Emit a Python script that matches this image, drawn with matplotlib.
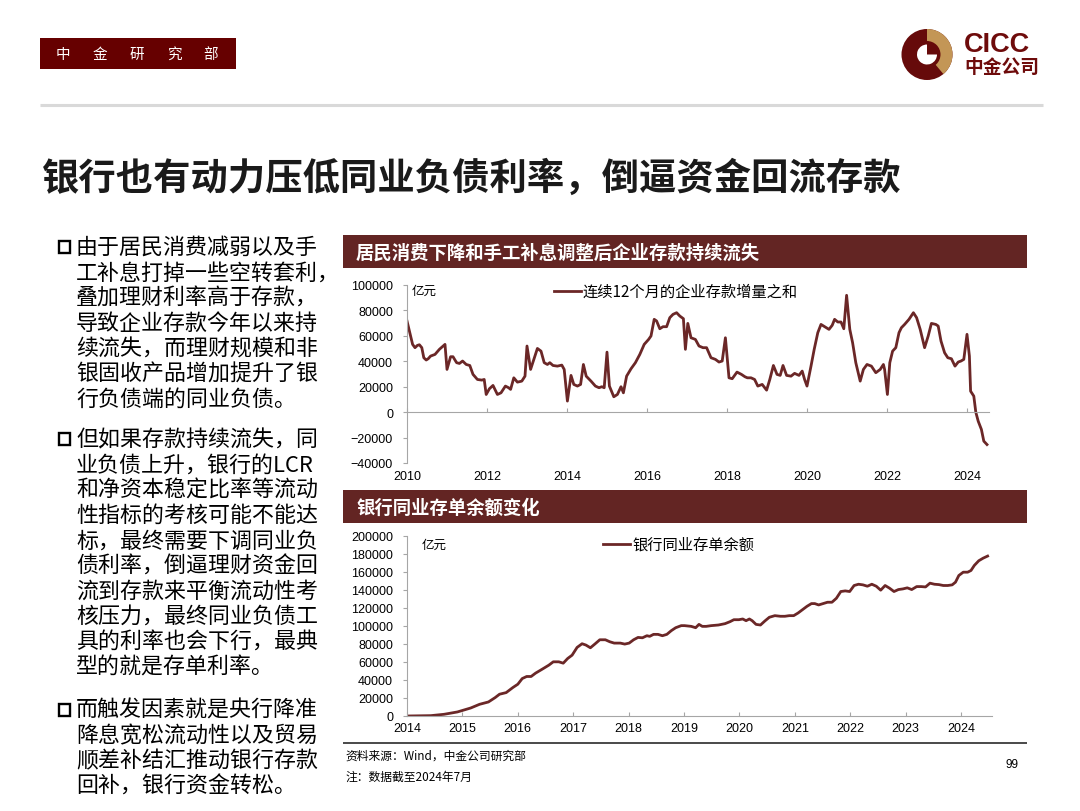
import matplotlib
matplotlib.use('Agg')
import matplotlib.pyplot as plt
from matplotlib import font_manager
from matplotlib.patches import Rectangle, Circle, Wedge
from matplotlib.ticker import FuncFormatter

# ---------------- data ----------------
# Chart 1: 连续12个月的企业存款增量之和 (亿元)
ent_year = [2010.00, 2010.09, 2010.14, 2010.20, 2010.26, 2010.31, 2010.37, 2010.42, 2010.48, 2010.53,
            2010.59, 2010.70, 2010.81, 2010.95, 2011.00, 2011.09, 2011.15, 2011.24, 2011.31, 2011.39,
            2011.48, 2011.57, 2011.65, 2011.76, 2011.87, 2011.93, 2011.98, 2012.06, 2012.15, 2012.26,
            2012.35, 2012.46, 2012.54, 2012.59, 2012.67, 2012.76, 2012.87, 2012.95, 2013.00, 2013.09,
            2013.17, 2013.26, 2013.35, 2013.43, 2013.51, 2013.57, 2013.65, 2013.76, 2013.87, 2013.93,
            2014.01, 2014.10, 2014.17, 2014.26, 2014.34, 2014.41, 2014.48, 2014.60, 2014.71, 2014.80,
            2014.87, 2014.93, 2015.00, 2015.06, 2015.17, 2015.26, 2015.35, 2015.41, 2015.49, 2015.60,
            2015.71, 2015.82, 2015.93, 2016.04, 2016.10, 2016.18, 2016.24, 2016.32, 2016.40, 2016.49,
            2016.57, 2016.65, 2016.74, 2016.82, 2016.91, 2016.96, 2017.02, 2017.10, 2017.21, 2017.30,
            2017.40, 2017.49, 2017.60, 2017.71, 2017.80, 2017.88, 2017.96, 2018.05, 2018.13, 2018.25,
            2018.36, 2018.45, 2018.51, 2018.60, 2018.69, 2018.77, 2018.88, 2018.99, 2019.07, 2019.16,
            2019.25, 2019.33, 2019.40, 2019.49, 2019.60, 2019.69, 2019.80, 2019.88, 2019.94, 2020.00,
            2020.10, 2020.18, 2020.27, 2020.35, 2020.44, 2020.55, 2020.63, 2020.69, 2020.77, 2020.85,
            2020.92, 2020.99, 2021.07, 2021.14, 2021.22, 2021.33, 2021.41, 2021.50, 2021.61, 2021.72,
            2021.83, 2021.91, 2021.94, 2022.01, 2022.07, 2022.14, 2022.22, 2022.30, 2022.36, 2022.44,
            2022.55, 2022.66, 2022.74, 2022.83, 2022.94, 2023.03, 2023.11, 2023.22, 2023.28, 2023.35,
            2023.44, 2023.52, 2023.61, 2023.70, 2023.78, 2023.85, 2023.92, 2024.00, 2024.06, 2024.09,
            2024.17, 2024.22, 2024.28, 2024.36, 2024.42, 2024.50]
ent_value = [71700, 59900, 53300, 50700, 52500, 53000, 50700, 42800, 41000, 42000,
             44100, 45400, 49400, 53300, 33600, 43600, 43600, 38900, 38300, 40200,
             37500, 36700, 29700, 25700, 25200, 25700, 13900, 18400, 21000, 13900,
             15200, 20500, 19200, 17900, 27000, 23600, 24400, 28300, 52000, 33600,
             41500, 50100, 48000, 38900, 37500, 38900, 36700, 36200, 37000, 33600,
             8700, 28900, 21800, 20500, 21800, 37500, 28300, 24400, 20500, 19200,
             20000, 19200, 47200, 20500, 12100, 13900, 20000, 15200, 28300, 34100,
             38900, 45400, 53300, 57200, 59900, 73000, 71700, 65600, 67200, 67200,
             74300, 76900, 78200, 75600, 73500, 49400, 69800, 58500, 57200, 52000,
             50700, 50700, 42800, 41500, 39400, 40200, 58500, 27000, 26300, 31500,
             29700, 27800, 27000, 27000, 25700, 20500, 21800, 17300, 25700, 36700,
             29700, 28900, 36700, 28900, 28300, 30500, 28900, 32300, 25700, 20500,
             36200, 49400, 62500, 69000, 67200, 65100, 68300, 73000, 70900, 70900,
             65600, 91900, 65100, 54600, 38900, 24400, 33600, 37500, 36200, 31000,
             33600, 37500, 33600, 13900, 38900, 48000, 50700, 62500, 66400, 69000,
             73000, 78200, 74300, 65100, 50700, 59900, 69800, 69000, 67700, 55900,
             46700, 42800, 42000, 36200, 39400, 40200, 41500, 61200, 44100, 16500,
             12600, 0, -7100, -13600, -22800, -25500]

# Chart 2: 银行同业存单余额 (亿元)
ncd_year = [2014.00, 2014.43, 2014.67, 2014.91, 2015.03, 2015.15, 2015.31, 2015.47, 2015.59, 2015.67,
            2015.79, 2015.91, 2016.00, 2016.08, 2016.16, 2016.24, 2016.32, 2016.44, 2016.56, 2016.64,
            2016.74, 2016.82, 2016.90, 2016.98, 2017.07, 2017.16, 2017.23, 2017.31, 2017.39, 2017.48,
            2017.58, 2017.66, 2017.74, 2017.85, 2017.93, 2018.01, 2018.09, 2018.17, 2018.25, 2018.33,
            2018.38, 2018.45, 2018.53, 2018.61, 2018.69, 2018.77, 2018.85, 2018.95, 2019.01, 2019.13,
            2019.21, 2019.27, 2019.33, 2019.40, 2019.49, 2019.62, 2019.74, 2019.83, 2019.90, 2019.99,
            2020.06, 2020.12, 2020.18, 2020.23, 2020.30, 2020.38, 2020.46, 2020.54, 2020.64, 2020.74,
            2020.82, 2020.90, 2020.98, 2021.06, 2021.14, 2021.22, 2021.30, 2021.36, 2021.43, 2021.51,
            2021.59, 2021.67, 2021.75, 2021.83, 2021.91, 2021.99, 2022.07, 2022.15, 2022.23, 2022.31,
            2022.39, 2022.47, 2022.55, 2022.63, 2022.71, 2022.79, 2022.87, 2022.95, 2023.03, 2023.11,
            2023.20, 2023.28, 2023.36, 2023.44, 2023.52, 2023.60, 2023.68, 2023.76, 2023.84, 2023.90,
            2023.96, 2024.04, 2024.12, 2024.18, 2024.24, 2024.32, 2024.40, 2024.48]
ncd_value = [0, 400, 1900, 4500, 6700, 8900, 13000, 15600, 20400, 24200,
             26000, 31600, 35300, 41600, 43900, 43900, 47600, 52000, 56500, 60200,
             60200, 58700, 63900, 67600, 76200, 80300, 78800, 75800, 79900, 84700,
             84700, 82500, 81000, 81000, 79900, 81000, 84700, 87300, 86900, 89200,
             88500, 90700, 90700, 89200, 90700, 94800, 98100, 100400, 100400, 99600,
             98100, 101800, 99600, 99600, 100400, 101100, 102600, 104800, 107000, 107000,
             107800, 105900, 107800, 105900, 101800, 101100, 105600, 109700, 111500, 110800,
             110800, 111500, 111500, 114500, 118200, 121900, 124900, 124900, 123400, 124900,
             126400, 126400, 130800, 138300, 139000, 138300, 145000, 146400, 145700, 144200,
             146400, 144200, 139800, 145000, 142000, 138300, 140500, 141200, 142400, 140500,
             143800, 143800, 143400, 147600, 146400, 146000, 145000, 145000, 145700, 148700,
             156100, 159800, 159800, 161700, 167300, 172500, 175400, 177700]

ent_xticks = [2010, 2012, 2014, 2016, 2018, 2020, 2022, 2024]
ent_yticks = [-40000, -20000, 0, 20000, 40000, 60000, 80000, 100000]
ncd_xticks = list(range(2014, 2025))
ncd_yticks = list(range(0, 200001, 20000))

title = "银行也有动力压低同业负债利率，倒逼资金回流存款"
chart1_title = "居民消费下降和手工补息调整后企业存款持续流失"
chart2_title = "银行同业存单余额变化"
legend1 = "连续12个月的企业存款增量之和"
legend2 = "银行同业存单余额"
unit = "亿元"
paragraphs = [
    ["由于居民消费减弱以及手", "工补息打掉一些空转套利，", "叠加理财利率高于存款，",
     "导致企业存款今年以来持", "续流失，而理财规模和非", "银固收产品增加提升了银",
     "行负债端的同业负债。"],
    ["但如果存款持续流失，同", "业负债上升，银行的LCR", "和净资本稳定比率等流动",
     "性指标的考核可能不能达", "标，最终需要下调同业负", "债利率，倒逼理财资金回",
     "流到存款来平衡流动性考", "核压力，最终同业负债工", "具的利率也会下行，最典",
     "型的就是存单利率。"],
    ["而触发因素就是央行降准", "降息宽松流动性以及贸易", "顺差补结汇推动银行存款",
     "回补，银行资金转松。"],
]
source_text = "资料来源：Wind，中金公司研究部"
note_text = "注：数据截至2024年7月"
page_no = "99"

# ---------------- style ----------------
W, H = 1080, 812
CJK = ['Noto Sans CJK SC', 'DejaVu Sans']
plt.rcParams['font.family'] = CJK
names = {f.name for f in font_manager.fontManager.ttflist}
NUM = ['Liberation Sans', 'DejaVu Sans'] if 'Liberation Sans' in names else ['DejaVu Sans']

MAROON = '#632523'
LINEC = '#6B2727'
AXC = '#A6A6A6'

fig = plt.figure(figsize=(10.8, 8.12), dpi=100)
fig.patch.set_facecolor('white')

bg = fig.add_axes([0, 0, 1, 1])
bg.set_xlim(0, W)
bg.set_ylim(H, 0)
bg.axis('off')

# header box
bg.add_patch(Rectangle((40, 39), 196, 31, color='#660000', lw=0))
for i, ch in enumerate("中金研究部"):
    bg.text(63 + i * 37, 55, ch, color='white', fontsize=10.5, ha='center', va='center')

# logo
cx, cy = 927, 55.5
bg.add_patch(Circle((cx, cy), 25.5, color='#660A0A', lw=0))
bg.add_patch(Wedge((cx, cy), 25.5, -90, 50, color='#C39656', lw=0))
bg.add_patch(Circle((cx, cy), 13.5, color='#660A0A', lw=0))
bg.add_patch(Wedge((cx, cy), 10, 0, 270, color='white', lw=0))
bg.text(964, 45, "CICC", color='#6E0B0B', fontsize=19.5, fontweight='bold',
        family=NUM, ha='left', va='center')
bg.text(964, 67, "中金公司", color='#6E0B0B', fontsize=13.5, fontweight='bold',
        ha='left', va='center')

# separator
bg.plot([40, 1043], [106, 106], color='#D9D9D9', lw=2.2, solid_capstyle='butt')

# main title
bg.text(42, 178, title, fontsize=26.9, fontweight='bold', color='#1A1A1A',
        ha='left', va='center')

# left text
starts = [248, 440, 711]
pitch = 25.3
for para, y0 in zip(paragraphs, starts):
    bg.add_patch(Rectangle((58.5, y0 - 6), 11.5, 11.5, fill=False, ec='black', lw=1.7))
    for k, line in enumerate(para):
        bg.text(76, y0 + k * pitch, line, fontsize=15.8, color='black',
                ha='left', va='center')

# chart title bars
for ytop, txt in [(236, chart1_title), (491, chart2_title)]:
    bg.add_patch(Rectangle((343, ytop), 684, 33, color=MAROON, lw=0))
    bg.text(356, ytop + 17, txt, color='white', fontsize=13.2, fontweight='bold',
            ha='left', va='center')

# footer
bg.plot([343, 1027], [744, 744], color='#3A3A3A', lw=1.3, solid_capstyle='butt')
bg.text(345, 756, source_text, fontsize=8.5, color='black', ha='left', va='center')
bg.text(345, 777, note_text, fontsize=8.5, color='black', ha='left', va='center')
bg.text(1012, 765, page_no, fontsize=8.5, color='black', ha='center', va='center', family=NUM)


def px_axes(x0, y0, x1, y1):
    return fig.add_axes([x0 / W, 1 - y1 / H, (x1 - x0) / W, (y1 - y0) / H])


def fmt(v, pos):
    return f"{int(round(v))}".replace('-', '\u2212')


def style(ax):
    ax.patch.set_alpha(0)
    for s in ['top', 'right']:
        ax.spines[s].set_visible(False)
    for s in ['left', 'bottom']:
        ax.spines[s].set_color(AXC)
        ax.spines[s].set_linewidth(0.8)
    ax.yaxis.set_major_formatter(FuncFormatter(fmt))
    ax.tick_params(axis='y', direction='out', length=3, width=0.8, color=AXC,
                   labelsize=9, pad=7)
    for lab in ax.get_yticklabels() + ax.get_xticklabels():
        lab.set_family(NUM)


# ---- chart 1 ----
ax1 = px_axes(407, 286, 989, 464)
ax1.set_xlim(2010, 2024.55)
ax1.set_ylim(-40000, 100000)
l1, = ax1.plot(ent_year, ent_value, color=LINEC, lw=2.0, solid_joinstyle='round')
ax1.set_xticks(ent_xticks)
ax1.set_yticks(ent_yticks)
ax1.set_xticklabels([str(t) for t in ent_xticks])
ax1.spines['bottom'].set_position(('data', 0))
ax1.tick_params(axis='x', direction='in', length=3, width=0.8, color=AXC,
                labelsize=9, pad=42)
style(ax1)
ax1.legend([l1], [legend1], loc='upper left', bbox_to_anchor=(554 / W, 1 - 284 / H),
           bbox_transform=fig.transFigure, frameon=False, borderpad=0, borderaxespad=0,
           handlelength=1.75, handletextpad=0.15, fontsize=11)
bg.text(412, 291, unit, fontsize=9, ha='left', va='center')

# ---- chart 2 ----
ax2 = px_axes(407, 537, 991.5, 717)
ax2.set_xlim(2014, 2024.55)
ax2.set_ylim(0, 200000)
l2, = ax2.plot(ncd_year, ncd_value, color=LINEC, lw=2.0, solid_joinstyle='round')
ax2.set_xticks(ncd_xticks)
ax2.set_yticks(ncd_yticks)
ax2.set_xticklabels([str(t) for t in ncd_xticks])
ax2.tick_params(axis='x', direction='in', length=3, width=0.8, color=AXC,
                labelsize=9, pad=4)
style(ax2)
ax2.legend([l2], [legend2], loc='upper left', bbox_to_anchor=(603 / W, 1 - 537 / H),
           bbox_transform=fig.transFigure, frameon=False, borderpad=0, borderaxespad=0,
           handlelength=1.75, handletextpad=0.15, fontsize=11)
bg.text(422, 545, unit, fontsize=9, ha='left', va='center')

fig.savefig('out.png', dpi=100, facecolor='white')
